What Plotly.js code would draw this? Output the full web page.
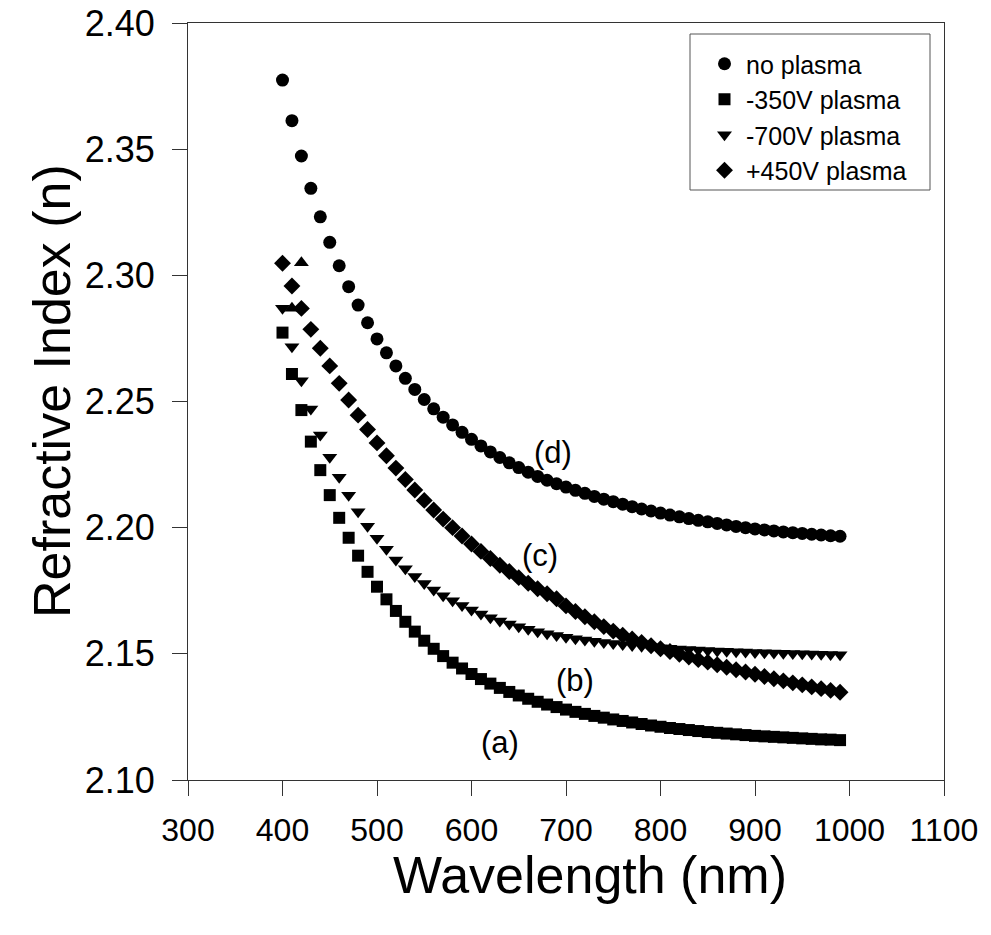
<!DOCTYPE html>
<html>
<head>
<meta charset="utf-8">
<script src="https://cdn.plot.ly/plotly-3.0.1.min.js"></script>
<style>
  html, body { margin: 0; padding: 0; background: #ffffff; }
  #chart { width: 991px; height: 935px; }
</style>
</head>
<body>
<div id="chart"></div>
<script>
// Wavelength grid (nm), one sample every 10 nm
const wavelength = [400,410,420,430,440,450,460,470,480,490,
                    500,510,520,530,540,550,560,570,580,590,
                    600,610,620,630,640,650,660,670,680,690,
                    700,710,720,730,740,750,760,770,780,790,
                    800,810,820,830,840,850,860,870,880,890,
                    900,910,920,930,940,950,960,970,980,990];

// (d) no plasma
const nNoPlasma = [2.3774,2.3613,2.3473,2.3345,2.3232,2.3131,2.3038,2.2955,2.2882,2.2812,
                   2.2748,2.2693,2.2641,2.2592,2.2548,2.2508,2.2471,2.2438,2.2407,2.2378,
                   2.2350,2.2324,2.2300,2.2278,2.2257,2.2238,2.2220,2.2203,2.2188,2.2174,
                   2.2161,2.2148,2.2136,2.2124,2.2113,2.2103,2.2093,2.2083,2.2074,2.2066,
                   2.2058,2.2050,2.2043,2.2036,2.2029,2.2023,2.2017,2.2011,2.2005,2.2000,
                   2.1995,2.1991,2.1987,2.1983,2.1980,2.1977,2.1974,2.1971,2.1968,2.1966];

// (a) -350V plasma
const nMinus350 = [2.2773,2.2609,2.2466,2.2341,2.2228,2.2129,2.2039,2.1960,2.1889,2.1825,
                   2.1766,2.1716,2.1670,2.1627,2.1588,2.1552,2.1520,2.1491,2.1465,2.1442,
                   2.1420,2.1400,2.1382,2.1365,2.1349,2.1335,2.1322,2.1310,2.1299,2.1289,
                   2.1279,2.1270,2.1262,2.1254,2.1247,2.1240,2.1234,2.1228,2.1222,2.1216,
                   2.1211,2.1206,2.1202,2.1198,2.1194,2.1190,2.1187,2.1184,2.1181,2.1178,
                   2.1175,2.1173,2.1171,2.1169,2.1167,2.1165,2.1163,2.1161,2.1160,2.1158];

// (b) -700V plasma
const nMinus700 = [2.2870,2.2717,2.2582,2.2470,2.2367,2.2279,2.2200,2.2128,2.2063,2.2006,
                   2.1958,2.1914,2.1872,2.1837,2.1806,2.1779,2.1753,2.1730,2.1710,2.1692,
                   2.1674,2.1658,2.1643,2.1630,2.1618,2.1607,2.1597,2.1588,2.1580,2.1573,
                   2.1566,2.1560,2.1555,2.1550,2.1545,2.1541,2.1537,2.1533,2.1530,2.1527,
                   2.1524,2.1522,2.1519,2.1517,2.1515,2.1513,2.1511,2.1510,2.1508,2.1507,
                   2.1505,2.1504,2.1503,2.1502,2.1501,2.1500,2.1499,2.1498,2.1497,2.1496];

// two stray -700V readings plotted with an upward triangle
const strayWavelength = [410, 420];
const strayMinus700 = [2.2870, 2.3050];

// (c) +450V plasma
const nPlus450 = [2.3048,2.2958,2.2869,2.2786,2.2711,2.2641,2.2572,2.2506,2.2446,2.2389,
                  2.2336,2.2285,2.2236,2.2191,2.2149,2.2108,2.2070,2.2034,2.2000,2.1967,
                  2.1935,2.1906,2.1878,2.1851,2.1826,2.1802,2.1780,2.1758,2.1738,2.1718,
                  2.1690,2.1668,2.1647,2.1627,2.1608,2.1590,2.1574,2.1559,2.1545,2.1532,
                  2.1520,2.1509,2.1498,2.1487,2.1477,2.1467,2.1457,2.1447,2.1437,2.1428,
                  2.1419,2.1410,2.1401,2.1393,2.1385,2.1377,2.1369,2.1362,2.1355,2.1348];

const curveLabels = ['(a)', '(b)', '(c)', '(d)'];
const curveLabelX = [630, 710, 672, 686];
const curveLabelY = [2.1150, 2.1396, 2.1891, 2.2296];

const seriesNames = ['no plasma', '-350V plasma', '-700V plasma', '+450V plasma'];

const xTitle = 'Wavelength (nm)';
const yTitle = 'Refractive Index (n)';

const FONT = '"Liberation Sans", Arial, Helvetica, sans-serif';

// plot-area geometry in pixels, used to place the paper-referenced extras
const L = 188, R = 944, T = 23, B = 780;
const px = v => (v - L) / (R - L);
const py = v => (B - v) / (B - T);

function scatter(name, x, y, symbol, size, showlegend) {
  return {
    type: 'scatter', mode: 'markers', name: name, x: x, y: y,
    showlegend: showlegend,
    marker: { symbol: symbol, size: size, color: '#000000', line: { width: 0 } },
    hoverinfo: 'x+y'
  };
}

const traces = [
  scatter(seriesNames[0], wavelength, nNoPlasma, 'circle', 13, true),
  scatter(seriesNames[1], wavelength, nMinus350, 'square', 12, true),
  scatter(seriesNames[2], wavelength, nMinus700, 'triangle-down', 13, true),
  scatter(seriesNames[3], wavelength, nPlus450, 'diamond', 13, true),
  scatter(seriesNames[2], strayWavelength, strayMinus700, 'triangle-up', 13, false)
];

const annotations = curveLabels.map((t, i) => ({
  x: curveLabelX[i], y: curveLabelY[i], xref: 'x', yref: 'y',
  text: t, showarrow: false,
  font: { family: FONT, size: 31, color: '#000000' }
}));

annotations.push({
  x: px(590), y: py(875), xref: 'paper', yref: 'paper',
  xanchor: 'center', yanchor: 'middle', showarrow: false,
  text: xTitle, font: { family: FONT, size: 52, color: '#000000' }
});
annotations.push({
  x: px(52), y: py(391), xref: 'paper', yref: 'paper',
  xanchor: 'center', yanchor: 'middle', showarrow: false, textangle: -90,
  text: yTitle, font: { family: FONT, size: 52, color: '#000000' }
});

const axisCommon = {
  showline: true, linecolor: '#333333', linewidth: 1, mirror: true,
  ticks: 'outside', ticklen: 15, tickwidth: 1, tickcolor: '#333333',
  showgrid: false, zeroline: false
};

const layout = {
  width: 991, height: 935,
  paper_bgcolor: '#ffffff', plot_bgcolor: '#ffffff',
  margin: { l: L, r: 991 - R, t: T, b: 935 - B },
  font: { family: FONT, color: '#000000' },
  xaxis: Object.assign({}, axisCommon, {
    range: [300, 1100], dtick: 100, tick0: 300,
    ticklabelstandoff: 7,
    tickfont: { family: FONT, size: 32, color: '#000000' }
  }),
  yaxis: Object.assign({}, axisCommon, {
    range: [2.10, 2.40], dtick: 0.05, tick0: 2.10, tickformat: '.2f',
    ticklabelstandoff: 10,
    tickfont: { family: FONT, size: 36, color: '#000000' }
  }),
  legend: {
    x: px(703), y: py(41), xanchor: 'left', yanchor: 'top',
    bgcolor: 'rgba(0,0,0,0)', borderwidth: 0,
    font: { family: FONT, size: 25, color: '#000000' },
    tracegroupgap: 0, itemwidth: 33
  },
  shapes: [{
    type: 'rect', xref: 'paper', yref: 'paper',
    x0: px(690), x1: px(930), y0: py(190), y1: py(34),
    line: { color: '#555555', width: 1 }, fillcolor: 'rgba(0,0,0,0)'
  }],
  annotations: annotations
};

Plotly.newPlot('chart', traces, layout, { displayModeBar: false, staticPlot: true });
</script>
</body>
</html>
